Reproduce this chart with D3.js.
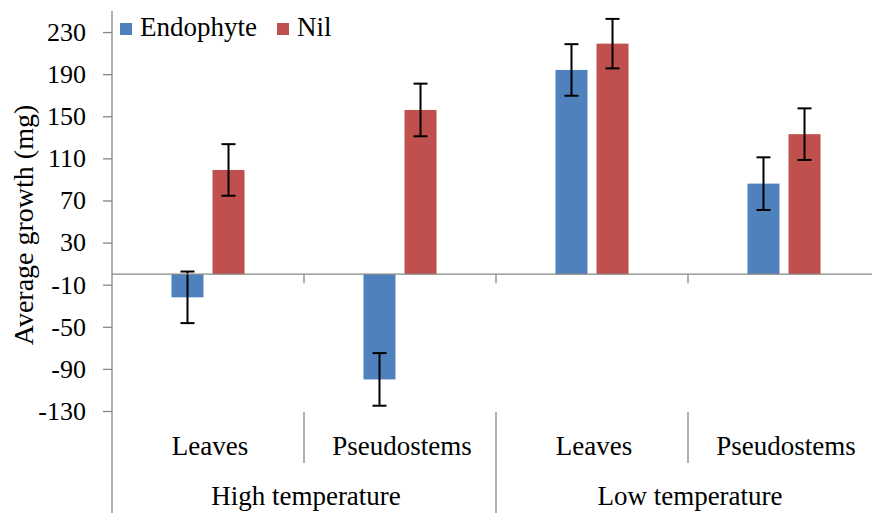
<!DOCTYPE html>
<html>
<head>
<meta charset="utf-8">
<script src="https://cdn.jsdelivr.net/npm/d3@7"></script>
<style>
  body { margin: 0; background: #fff; }
  svg text { font-family: "Liberation Serif", Tinos, "Times New Roman", "DejaVu Serif", serif; fill: #000; }
</style>
</head>
<body>
<div id="chart"></div>
<script>
var groups = ["High temperature", "Low temperature"];
var parts = ["Leaves", "Pseudostems"];
var series = ["Endophyte", "Nil"];
var endophyte = [-22, -100, 194, 86];
var nil = [99, 156, 219, 133];
var endophyteErr = [24.5, 25, 24.5, 25];
var nilErr = [24.5, 25, 23.5, 24.5];
var yTicks = [-130, -90, -50, -10, 30, 70, 110, 150, 190, 230];
var colors = ["#4F81BD", "#C0504D"];

var svgWidth = 872, svgHeight = 513;
var margin = {top: 11, left: 112, right: -8, plotBottom: 411};
var axisColor = "#868686";
var serif = '"Liberation Serif", Tinos, "Times New Roman", "DejaVu Serif", serif';

var svg = d3.select("#chart").append("svg")
    .attr("width", svgWidth)
    .attr("height", svgHeight)
    .attr("font-family", serif)

// one category per group/part pair
var cats = [];
groups.forEach(function(g) {
    parts.forEach(function(p) { cats.push({group: g, part: p}) })
});
var data = cats.map(function(c, i) {
    return {
        group: c.group, part: c.part,
        values: [
            {s: series[0], v: endophyte[i], e: endophyteErr[i]},
            {s: series[1], v: nil[i], e: nilErr[i]}
        ]
    }
});

var x0 = d3.scaleBand()
    .domain(d3.range(cats.length))
    .range([margin.left, svgWidth - margin.right])

var x1 = d3.scaleBand()
    .domain(series)
    .range([0, x0.bandwidth()])
    .paddingInner(0.22)
    .paddingOuter(1.45)

var y = d3.scaleLinear()
    .domain([-130, 250])
    .range([margin.plotBottom, margin.top])

var color = d3.scaleOrdinal().domain(series).range(colors)

// bars
var cat = svg.append("g").selectAll("g")
    .data(data)
    .enter().append("g")
    .attr("transform", function(d, i) { return `translate(${x0(i)}, 0)` })

cat.selectAll("rect")
    .data(function(d) { return d.values })
    .enter().append("rect")
    .attr("x", function(d) { return x1(d.s) })
    .attr("width", x1.bandwidth())
    .attr("y", function(d) { return y(Math.max(0, d.v)) })
    .attr("height", function(d) { return Math.abs(y(d.v) - y(0)) })
    .attr("fill", function(d) { return color(d.s) })

// category axis at zero
svg.append("line")
    .attr("x1", margin.left).attr("x2", svgWidth - margin.right)
    .attr("y1", y(0)).attr("y2", y(0))
    .attr("stroke", axisColor).attr("stroke-width", 1.3)

svg.append("g").selectAll("line")
    .data(d3.range(1, cats.length))
    .enter().append("line")
    .attr("x1", function(i) { return x0(i) })
    .attr("x2", function(i) { return x0(i) })
    .attr("y1", y(0)).attr("y2", y(0) + 9)
    .attr("stroke", axisColor).attr("stroke-width", 1.3)

// error bars
var capW = 14;
var err = cat.selectAll("g.err")
    .data(function(d) { return d.values })
    .enter().append("g")
    .attr("class", "err")
    .attr("stroke", "#000")
    .attr("stroke-width", 2)

err.append("line")
    .attr("x1", function(d) { return x1(d.s) + x1.bandwidth() / 2 })
    .attr("x2", function(d) { return x1(d.s) + x1.bandwidth() / 2 })
    .attr("y1", function(d) { return y(d.v + d.e) })
    .attr("y2", function(d) { return y(d.v - d.e) })

err.selectAll("line.cap")
    .data(function(d) { return [d.v + d.e, d.v - d.e].map(function(v) { return {s: d.s, v: v} }) })
    .enter().append("line")
    .attr("class", "cap")
    .attr("x1", function(d) { return x1(d.s) + x1.bandwidth() / 2 - capW / 2 })
    .attr("x2", function(d) { return x1(d.s) + x1.bandwidth() / 2 + capW / 2 })
    .attr("y1", function(d) { return y(d.v) })
    .attr("y2", function(d) { return y(d.v) })

// value axis
var yAxis = svg.append("g")
    .attr("transform", `translate(${margin.left}, 0)`)
    .call(d3.axisLeft(y).tickValues(yTicks).tickFormat(function(d) { return String(d) })
        .tickSize(9).tickPadding(17).tickSizeOuter(0))

yAxis.attr("font-family", serif).attr("font-size", 26)
yAxis.select(".domain").remove()
yAxis.selectAll(".tick line").attr("stroke", axisColor).attr("stroke-width", 1.3)
yAxis.selectAll(".tick text").attr("fill", "#000")

// left axis line runs down through the label area
svg.append("line")
    .attr("x1", margin.left).attr("x2", margin.left)
    .attr("y1", margin.top).attr("y2", svgHeight)
    .attr("stroke", axisColor).attr("stroke-width", 1.3)

// multi-level category labels
var labelTop = margin.plotBottom + 1;
svg.append("g").selectAll("line")
    .data(d3.range(1, cats.length))
    .enter().append("line")
    .attr("x1", function(i) { return x0(i) })
    .attr("x2", function(i) { return x0(i) })
    .attr("y1", labelTop)
    .attr("y2", function(i) { return i % parts.length == 0 ? svgHeight : 463 })
    .attr("stroke", axisColor).attr("stroke-width", 1.3)

svg.append("g").selectAll("text")
    .data(data)
    .enter().append("text")
    .attr("x", function(d, i) { return x0(i) + x0.bandwidth() / 2 + 2 })
    .attr("y", 455)
    .attr("text-anchor", "middle")
    .attr("font-size", 27)
    .text(function(d) { return d.part })

svg.append("g").selectAll("text")
    .data(groups)
    .enter().append("text")
    .attr("x", function(g, i) { return x0(i * parts.length) + x0.bandwidth() * parts.length / 2 + 2 })
    .attr("y", 505)
    .attr("text-anchor", "middle")
    .attr("font-size", 27)
    .text(function(g) { return g })

// y title
svg.append("text")
    .attr("transform", "translate(33, 225) rotate(-90)")
    .attr("text-anchor", "middle")
    .attr("font-size", 28)
    .text("Average growth (mg)")

// legend
var legendX = [120, 277];
var legend = svg.append("g").selectAll("g")
    .data(series)
    .enter().append("g")
    .attr("transform", function(d, i) { return `translate(${legendX[i]}, 23)` })

legend.append("rect")
    .attr("width", 12).attr("height", 12)
    .attr("fill", function(d) { return color(d) })

legend.append("text")
    .attr("x", 20).attr("y", 13)
    .attr("font-size", 27)
    .text(function(d) { return d })
</script>
</body>
</html>
